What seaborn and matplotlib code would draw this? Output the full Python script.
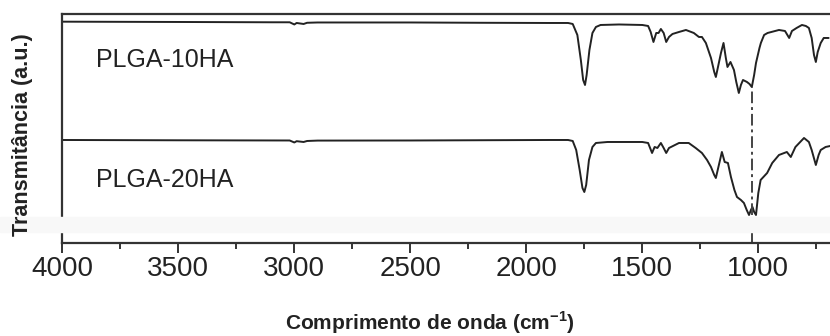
import numpy as np
import matplotlib
matplotlib.use("Agg")
import matplotlib.pyplot as plt
import seaborn as sns

# FTIR spectra (transmittance in arbitrary units)
wn_10ha = [4000, 3500, 3100, 3020, 3000, 2990, 2960, 2945, 2900, 2500, 2200, 1900,
           1820, 1800, 1780, 1765, 1755, 1747, 1740, 1728, 1715, 1700, 1680, 1600,
           1500, 1475, 1464, 1452, 1440, 1430, 1420, 1408, 1397, 1385, 1370, 1342,
           1312, 1278, 1256, 1243, 1226, 1204, 1190, 1183, 1172, 1161, 1150, 1140,
           1133, 1120, 1105, 1095, 1084, 1075, 1066, 1049, 1038, 1028, 1018, 1010,
           995, 989, 975, 960, 911, 885, 867, 855, 835, 812, 795, 782, 770, 760,
           752, 744, 731, 718, 697]
t_10ha = [195.3, 195, 194.7, 194.7, 192.5, 194, 193, 194.2, 194.5, 194.5, 194.2, 194,
          194, 193, 182, 157, 137, 132, 142, 167, 184, 190, 192, 192.5,
          192, 191, 185, 175, 184, 184, 188, 184, 175, 180, 183, 185,
          187, 184, 180, 180, 174, 159, 145, 140, 152, 164, 174, 159,
          150, 155, 147, 135, 124, 132, 137, 135, 133, 130, 142, 154,
          169, 174, 182, 184, 187, 186, 179, 186, 189, 192, 191, 189, 179, 162,
          155, 165, 174, 179, 179]

wn_20ha = [4000, 3500, 3020, 3000, 2990, 2960, 2945, 2900, 2500, 1900, 1820, 1800,
           1785, 1770, 1758, 1750, 1742, 1730, 1715, 1700, 1650, 1500, 1475, 1458,
           1447, 1435, 1420, 1408, 1397, 1385, 1342, 1300, 1270, 1243, 1221, 1204,
           1190, 1183, 1170, 1157, 1145, 1131, 1118, 1103, 1092, 1075, 1062, 1050,
           1040, 1032, 1025, 1018, 1010, 1000, 990, 962, 940, 911, 877, 860, 840,
           803, 782, 770, 752, 740, 731, 710, 690]
t_20ha = [77, 76.7, 76.5, 74.5, 75.8, 75, 76, 76.4, 76.5, 77, 77, 76,
          67, 47, 29, 25, 32, 57, 70, 74, 75, 75, 74, 64,
          70, 69, 74, 69, 64, 69, 74, 74, 69, 64, 57, 50,
          42, 39, 52, 65, 55, 54, 40, 27, 20, 17, 14, 7,
          2, 7, 10, 5, 2, 24, 37, 44, 54, 62, 65, 60, 70,
          79, 75, 67, 52, 62, 67, 70, 71]

labels = ["PLGA-10HA", "PLGA-20HA"]
band_center = 1028
x_ticks = [4000, 3500, 3000, 2500, 2000, 1500, 1000]

sns.set_theme(style="white")
plt.rcParams["font.family"] = ["Liberation Sans", "DejaVu Sans"]
plt.rcParams["mathtext.fontset"] = "custom"
plt.rcParams["mathtext.rm"] = "Liberation Sans"
plt.rcParams["mathtext.bf"] = "Liberation Sans:bold"

ink = "#222222"
fig = plt.figure(figsize=(8.3, 3.36), dpi=100)
# faint grey strip left over in the scanned figure
fig.patches.append(plt.Rectangle((0, 0.31), 1, 0.044, transform=fig.transFigure,
                                 color="#f8f8f8", zorder=0))

ax = fig.add_axes([0.0751, 0.3542, 0.9249, 0.6042])
axb = fig.add_axes([0.0751, 0.2777, 0.9249, 0.0318])
for a in (ax, axb):
    a.set_facecolor("none")
    a.set_xlim(4000, 691)

sns.lineplot(x=wn_10ha, y=t_10ha, ax=ax, color=ink, lw=1.4)
sns.lineplot(x=wn_20ha, y=t_20ha, ax=ax, color=ink, lw=1.4)
ax.set_ylim(0, 203)

# marker line through the phosphate band
top_at = np.interp(band_center, wn_10ha[::-1], t_10ha[::-1])
ax.vlines(band_center, min(t_20ha), top_at, colors="#444444", lw=1.4,
          linestyles=(0, (6, 2, 1.5, 2)))
axb.vlines(band_center, 0, 1, colors="#444444", lw=1.4,
           linestyles=(0, (6, 2, 1.5, 2)))
axb.set_ylim(0, 1)

ax.text(3855, 157, labels[0], fontsize=18, color=ink, va="center", ha="left")
ax.text(3855, 37, labels[1], fontsize=18, color=ink, va="center", ha="left")

for side in ["bottom", "right"]:
    ax.spines[side].set_visible(False)
for side in ["left", "top"]:
    ax.spines[side].set_linewidth(1.6)
    ax.spines[side].set_color("#333333")
ax.set_xticks([])
ax.set_yticks([])

for side in ["top", "right"]:
    axb.spines[side].set_visible(False)
for side in ["left", "bottom"]:
    axb.spines[side].set_linewidth(1.6)
    axb.spines[side].set_color("#333333")
axb.set_yticks([])
axb.set_xticks(x_ticks)
axb.set_xticks(np.arange(3750, 690, -500), minor=True)
axb.tick_params(axis="x", which="major", direction="out", length=7.5, width=1.4,
                color="#333333", labelsize=20, labelcolor=ink, pad=2, bottom=True)
axb.tick_params(axis="x", which="minor", direction="out", length=4, width=1.4,
                color="#333333", bottom=True)

fig.text(0.518, 0.018, r"Comprimento de onda (cm$^{\mathbf{-1}}$)", fontsize=15,
         fontweight="bold", color=ink, ha="center", va="baseline")
fig.text(0.027, 0.598, "Transmitância (a.u.)", fontsize=15.5, fontweight="bold",
         color=ink, rotation=90, ha="center", va="center")

plt.savefig("out.png", dpi=100)
